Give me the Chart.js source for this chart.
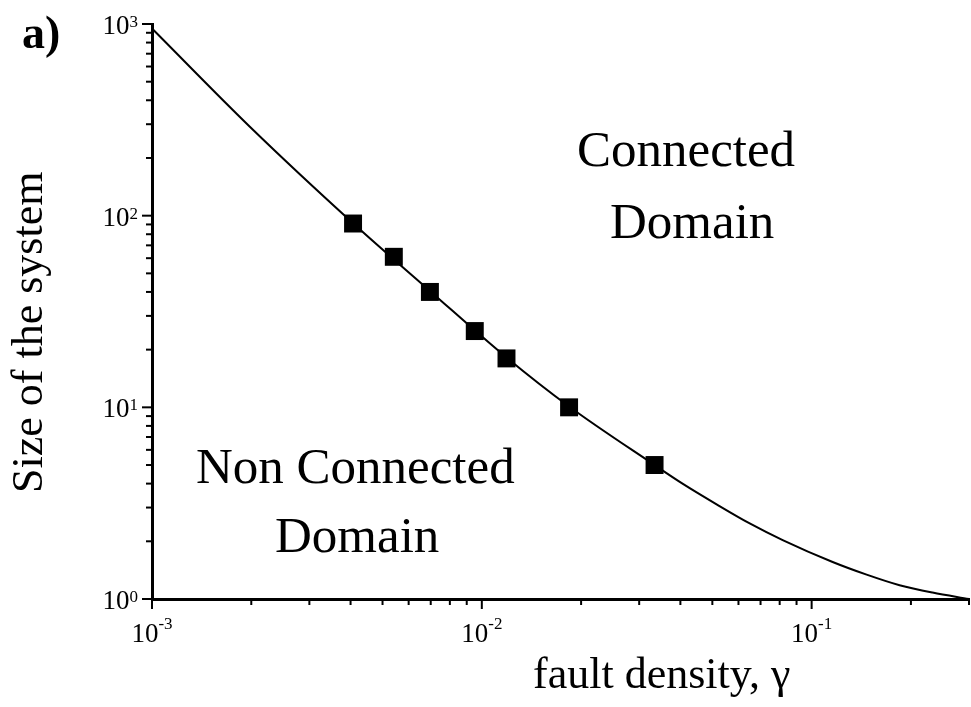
<!DOCTYPE html>
<html><head><meta charset="utf-8">
<script src="https://cdn.jsdelivr.net/npm/chart.js@4.4.1/dist/chart.umd.min.js"></script>
<style>html,body{margin:0;padding:0;background:#fff;}#wrap{width:971px;height:707px;position:relative;}</style>
</head><body><div id="wrap"><canvas id="c" width="971" height="707"></canvas></div>
<script>
// Percolation threshold curve
const curveX = [0.001, 0.00198, 0.00407, 0.00696, 0.01188, 0.01839, 0.0334, 0.0406, 0.0515, 0.0649, 0.0817, 0.1158, 0.1468, 0.1848, 0.2326, 0.3];
const curveY = [947, 291, 91.3, 40.5, 18.2, 10.1, 5.0, 4.0, 3.12, 2.48, 2.03, 1.56, 1.34, 1.18, 1.08, 1.0];
// Simulation samples (black squares)
const sampleX = [0.00407, 0.00541, 0.00696, 0.00952, 0.01188, 0.01839, 0.0334];
const sampleY = [91, 61, 40, 25, 18, 10, 5];
// Axes
const xMajorTicks = [0.001, 0.01, 0.1];
const xTickExponents = ['-3', '-2', '-1'];
const yMajorTicks = [1, 10, 100, 1000];
const yTickExponents = ['0', '1', '2', '3'];
const tickBase = '10';
const xMin = 0.001, xMax = 0.3, yMin = 1, yMax = 1000;
const xTitle = 'fault density, \u03B3';
const yTitle = 'Size of the system';
const panelLabel = 'a)';
const upperRegion = ['Connected', 'Domain'];
const lowerRegion = ['Non Connected', 'Domain'];

function allTicks(majors, lo, hi) {
  const out = [];
  majors.forEach(m => { for (let k = 1; k <= 9; k++) { const v = +(m * k).toPrecision(6); if (v >= lo - 1e-12 && v <= hi + 1e-12) out.push(v); } });
  if (!out.includes(hi)) out.push(hi);
  return Array.from(new Set(out)).sort((a, b) => a - b);
}
const xAll = allTicks(xMajorTicks, xMin, xMax);
const yAll = allTicks(yMajorTicks, yMin, yMax);

const SERIF = '"Liberation Serif", "Times New Roman", serif';
const BASE_FONT = '27px ' + SERIF;
const EXP_FONT = '17px ' + SERIF;

const decor = {
  id: 'decor',
  afterDraw(chart) {
    const ctx = chart.ctx;
    const xs = chart.scales.x, ys = chart.scales.y;
    const ca = chart.chartArea;
    ctx.save();
    ctx.strokeStyle = '#000';
    ctx.fillStyle = '#000';
    ctx.lineWidth = 2;
    // x ticks
    xAll.forEach(v => {
      const px = xs.getPixelForValue(v);
      const len = xMajorTicks.includes(v) ? 10 : 6;
      ctx.beginPath(); ctx.moveTo(px, ca.bottom); ctx.lineTo(px, ca.bottom + len); ctx.stroke();
    });
    // y ticks
    yAll.forEach(v => {
      const py = ys.getPixelForValue(v);
      const len = yMajorTicks.includes(v) ? 10 : 6;
      ctx.beginPath(); ctx.moveTo(ca.left, py); ctx.lineTo(ca.left - len, py); ctx.stroke();
    });
    // x tick labels
    ctx.textBaseline = 'alphabetic';
    ctx.textAlign = 'left';
    xMajorTicks.forEach((v, i) => {
      const px = xs.getPixelForValue(v);
      ctx.font = BASE_FONT; const w1 = ctx.measureText(tickBase).width;
      ctx.font = EXP_FONT; const w2 = ctx.measureText(xTickExponents[i]).width;
      const x0 = px - (w1 + w2) / 2;
      ctx.font = BASE_FONT; ctx.fillText(tickBase, x0, ca.bottom + 43);
      ctx.font = EXP_FONT; ctx.fillText(xTickExponents[i], x0 + w1, ca.bottom + 30);
    });
    // y tick labels
    yMajorTicks.forEach((v, i) => {
      const py = ys.getPixelForValue(v);
      ctx.font = BASE_FONT; const w1 = ctx.measureText(tickBase).width;
      ctx.font = EXP_FONT; const w2 = ctx.measureText(yTickExponents[i]).width;
      const x0 = 138 - (w1 + w2);
      ctx.font = BASE_FONT; ctx.fillText(tickBase, x0, py + 10);
      ctx.font = EXP_FONT; ctx.fillText(yTickExponents[i], x0 + w1, py + 3);
    });
    // titles
    ctx.font = '44px ' + SERIF;
    ctx.fillText(xTitle, 533, 688);
    ctx.save();
    ctx.translate(42, 493); ctx.rotate(-Math.PI / 2);
    ctx.fillText(yTitle, 0, 0);
    ctx.restore();
    // panel label
    ctx.font = 'bold 46px ' + SERIF;
    ctx.fillText(panelLabel, 22, 48);
    // region labels
    ctx.font = '51px ' + SERIF;
    ctx.fillText(upperRegion[0], 577, 166);
    ctx.fillText(upperRegion[1], 610, 238);
    ctx.fillText(lowerRegion[0], 196, 483);
    ctx.fillText(lowerRegion[1], 275, 552);
    ctx.restore();
  }
};

new Chart(document.getElementById('c'), {
  type: 'scatter',
  data: {
    datasets: [
      {
        label: 'threshold',
        data: curveX.map((x, i) => ({ x, y: curveY[i] })),
        showLine: true,
        borderColor: '#000',
        borderWidth: 2,
        pointRadius: 0,
        fill: false,
        cubicInterpolationMode: 'monotone',
        clip: false
      },
      {
        label: 'samples',
        data: sampleX.map((x, i) => ({ x, y: sampleY[i] })),
        showLine: false,
        pointStyle: 'rect',
        pointRadius: 12.7,
        backgroundColor: '#000',
        borderColor: '#000',
        borderWidth: 0,
        clip: false
      }
    ]
  },
  options: {
    responsive: false,
    animation: false,
    layout: { autoPadding: false, padding: { top: 24, right: 2, left: 0, bottom: 0 } },
    plugins: { legend: { display: false }, tooltip: { enabled: false } },
    scales: {
      x: {
        type: 'logarithmic', position: 'bottom', min: xMin, max: xMax,
        grid: { display: false },
        border: { display: true, color: '#000', width: 3 },
        ticks: { display: false },
        afterBuildTicks: s => { s.ticks = xAll.map(v => ({ value: v })); },
        afterFit: s => { s.height = 108; }
      },
      y: {
        type: 'logarithmic', position: 'left', min: yMin, max: yMax,
        grid: { display: false },
        border: { display: true, color: '#000', width: 3 },
        ticks: { display: false },
        afterBuildTicks: s => { s.ticks = yAll.map(v => ({ value: v })); },
        afterFit: s => { s.width = 152; }
      }
    }
  },
  plugins: [decor]
});
</script>
</body></html>
